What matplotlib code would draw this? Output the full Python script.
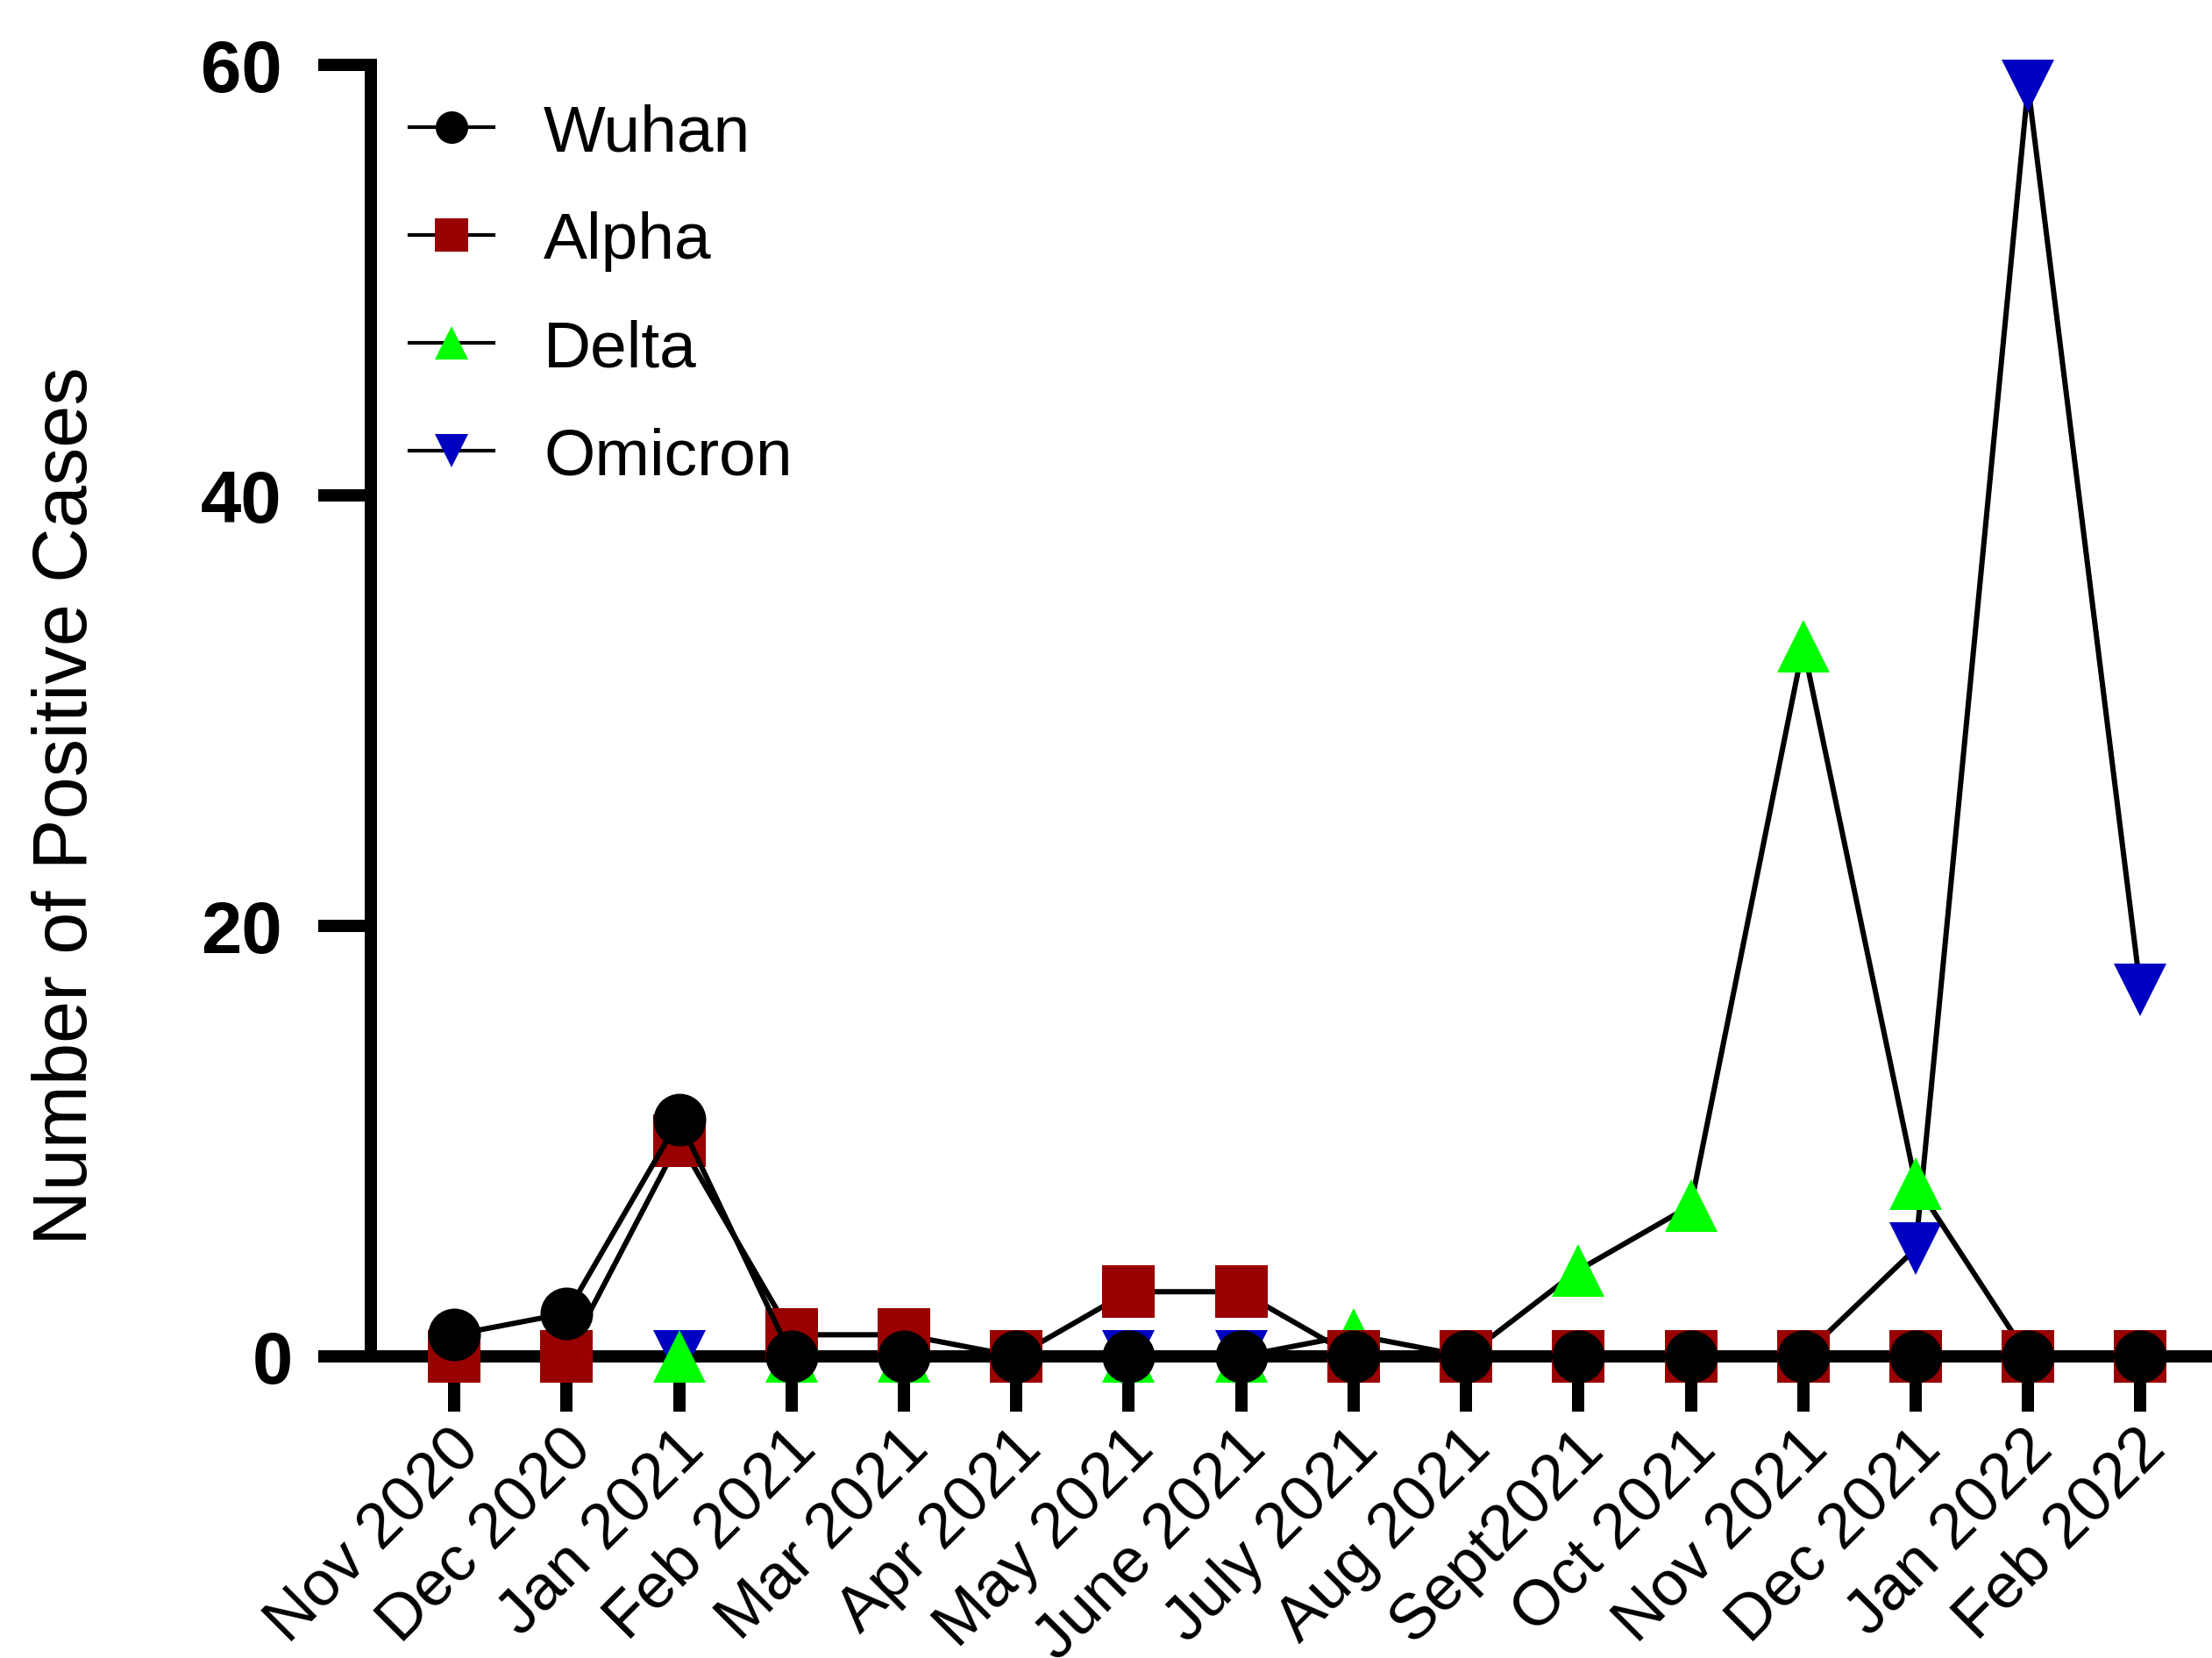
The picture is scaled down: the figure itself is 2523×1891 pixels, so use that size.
import matplotlib
matplotlib.use("Agg")
import matplotlib.pyplot as plt
import numpy as np
from matplotlib.lines import Line2D
from matplotlib.transforms import ScaledTranslation

plt.rcParams["font.family"] = ["Liberation Sans", "DejaVu Sans"]

months = ["Nov 2020", "Dec 2020", "Jan 2021", "Feb 2021", "Mar 2021", "Apr 2021",
          "May 2021", "June 2021", "July 2021", "Aug 2021", "Sept2021", "Oct 2021",
          "Nov 2021", "Dec 2021", "Jan 2022", "Feb 2022"]
wuhan = [1, 2, 11, 0, 0, 0, 0, 0, 0, 0, 0, 0, 0, 0, 0, 0]
alpha = [0, 0, 10, 1, 1, 0, 3, 3, 0, 0, 0, 0, 0, 0, 0, 0]
delta = [np.nan, np.nan, 0, 0, 0, 0, 0, 0, 1, 0, 4, 7, 33, 8, 0, 0]
omicron = [np.nan, np.nan, 0, 0, 0, 0, 0, 0, 0, 0, 0, 0, 0, 5, 59, 17]
y_ticks = [0, 20, 40, 60]

series = [
    ("Wuhan", wuhan, "o", "black"),
    ("Alpha", alpha, "s", "#990000"),
    ("Delta", delta, "^", "#00FF00"),
    ("Omicron", omicron, "v", "#0000C0"),
]

W, H = 2523, 1891
fig = plt.figure(figsize=((W + 0.5) / 300, (H + 0.5) / 300), dpi=300)
ax = fig.add_axes([423 / W, 1 - 1547 / H, (W - 423) / W, (1547 - 74) / H])

x = np.arange(len(months))
# back to front, so Wuhan sits on top like in the original
for z, (name, vals, mk, col) in enumerate(reversed(series)):
    ax.plot(x, vals, color="black", lw=1.45, marker=mk, markersize=14.4,
            markerfacecolor=col, markeredgewidth=0, clip_on=False, zorder=3 + z)

ax.set_xlim(-0.741, 15.64)
ax.set_ylim(0, 60)

for side in ("top", "right"):
    ax.spines[side].set_visible(False)
for side in ("left", "bottom"):
    ax.spines[side].set_linewidth(3.36)

ax.tick_params(axis="both", direction="out", width=3.36, color="black")
ax.tick_params(axis="x", length=15, pad=10.9)
ax.tick_params(axis="y", length=14.4, pad=10)

ax.set_xticks(x)
ax.set_xticklabels(months, rotation=45, ha="right", va="baseline",
                   rotation_mode="anchor", fontsize=17.5)
# labels end a bit to the right of their tick in the original
for lbl in ax.get_xticklabels():
    lbl.set_transform(lbl.get_transform()
                      + ScaledTranslation(7.4 / 72, 0, fig.dpi_scale_trans))

ax.set_yticks(y_ticks)
ax.set_yticklabels([str(v) for v in y_ticks], fontsize=20, fontweight="bold")
# the "0" label sits a little closer to the axis in the original
zero_lbl = ax.get_yticklabels()[0]
zero_lbl.set_transform(zero_lbl.get_transform()
                       + ScaledTranslation(3 / 72, 0, fig.dpi_scale_trans))

fig.text(76 / W, 1 - 919 / H, "Number of Positive Cases", rotation=90,
         ha="center", va="center", fontsize=20.8)

handles = [Line2D([], [], color="black", lw=1, marker=mk, markersize=8.9,
                  markerfacecolor=col, markeredgewidth=0)
           for name, vals, mk, col in series]
ax.legend(handles, [s[0] for s in series], loc="upper left",
          bbox_to_anchor=(467 / W, 1 - 118 / H), bbox_transform=fig.transFigure,
          frameon=False, fontsize=18, borderpad=0, borderaxespad=0,
          handlelength=1.28, handletextpad=0.76, labelspacing=0.72)

fig.savefig("out.png", dpi=300)
